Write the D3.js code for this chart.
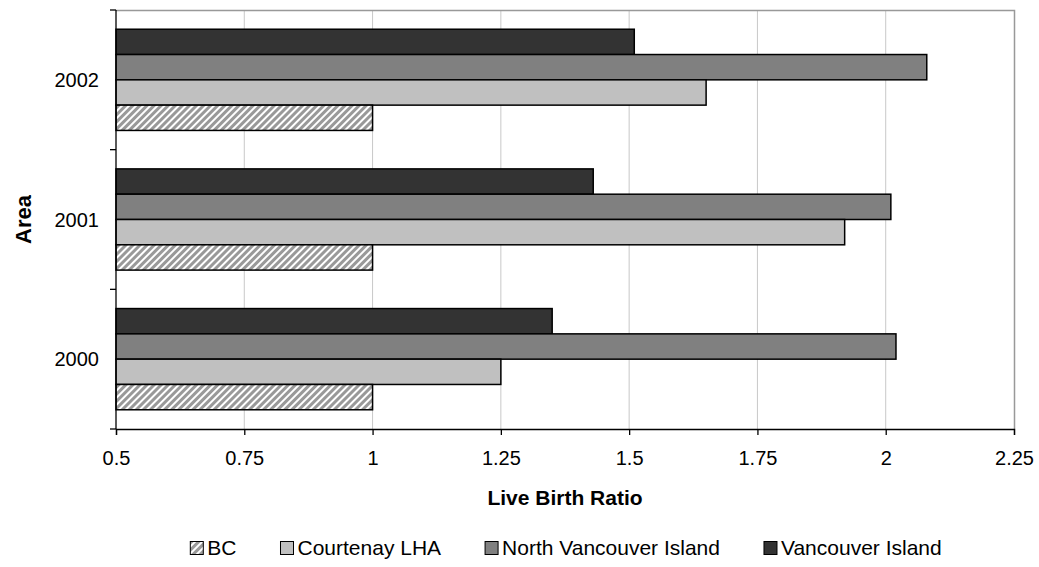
<!DOCTYPE html>
<html>
<head>
<meta charset="utf-8">
<script src="https://cdn.jsdelivr.net/npm/d3@7"></script>
<style>
  html, body { margin: 0; padding: 0; background: #fff; }
  svg { display: block; font-family: "Liberation Sans", Arial, sans-serif; }
</style>
</head>
<body>
<svg id="chart" width="1039" height="567"></svg>
<script>
// ---- data ----
const years = ["2000", "2001", "2002"];
const seriesNames = ["BC", "Courtenay LHA", "North Vancouver Island", "Vancouver Island"];
const bcValues = [1.0, 1.0, 1.0];
const courtenayValues = [1.25, 1.92, 1.65];
const northVIValues = [2.02, 2.01, 2.08];
const vancouverIslandValues = [1.35, 1.43, 1.51];
const xTickValues = [0.5, 0.75, 1, 1.25, 1.5, 1.75, 2, 2.25];
const xDomain = [0.5, 2.25];

const seriesValues = {
  "BC": bcValues,
  "Courtenay LHA": courtenayValues,
  "North Vancouver Island": northVIValues,
  "Vancouver Island": vancouverIslandValues
};
const fills = {
  "BC": "url(#hatch)",
  "Courtenay LHA": "#c0c0c0",
  "North Vancouver Island": "#808080",
  "Vancouver Island": "#333333"
};

// ---- layout ----
const L = 116, R = 1014, T = 10, B = 429;
const svg = d3.select("#chart");

const defs = svg.append("defs");
const pat = defs.append("pattern")
  .attr("id", "hatch").attr("patternUnits", "userSpaceOnUse")
  .attr("width", 5).attr("height", 5)
  .attr("patternTransform", "rotate(45)");
pat.append("rect").attr("width", 5).attr("height", 5).attr("fill", "#ffffff");
pat.append("rect").attr("width", 3).attr("height", 5).attr("fill", "#999999");

const x = d3.scaleLinear().domain(xDomain).range([L, R]);
const y0 = d3.scaleBand().domain(years.slice().reverse()).range([T, B]).padding(0);
const barOrder = ["Vancouver Island", "North Vancouver Island", "Courtenay LHA", "BC"];
const y1 = d3.scaleBand().domain(barOrder).range([0, y0.bandwidth()])
  .paddingInner(0).paddingOuter(0.76);

// gridlines
svg.append("g").selectAll("line")
  .data(xTickValues.filter(v => v > xDomain[0] && v < xDomain[1]))
  .join("line")
  .attr("x1", d => x(d)).attr("x2", d => x(d))
  .attr("y1", T).attr("y2", B)
  .attr("stroke", "#c8c8c8").attr("stroke-width", 1);

// plot border top/right
svg.append("path")
  .attr("d", `M${L},${T + 0.5}H${R + 0.5}V${B}`)
  .attr("fill", "none").attr("stroke", "#999").attr("stroke-width", 1.5);

// bars
const groups = svg.append("g").selectAll("g")
  .data(years).join("g")
  .attr("transform", d => `translate(0,${y0(d)})`);
groups.selectAll("rect")
  .data((yr, i) => barOrder.map(s => ({ s, v: seriesValues[s][i] })))
  .join("rect")
  .attr("x", x(xDomain[0]))
  .attr("y", d => y1(d.s))
  .attr("width", d => x(d.v) - x(xDomain[0]))
  .attr("height", y1.bandwidth())
  .attr("fill", d => fills[d.s])
  .attr("stroke", "#000").attr("stroke-width", 1.5);

// x axis
const xAxis = d3.axisBottom(x).tickValues(xTickValues)
  .tickFormat(d => String(d)).tickSizeOuter(0).tickSize(6).tickPadding(16);
const gx = svg.append("g").attr("transform", `translate(0,${B})`).call(xAxis);
gx.select(".domain").attr("stroke", "#000").attr("stroke-width", 1.3);
gx.selectAll(".tick line").attr("stroke", "#000").attr("stroke-width", 1.3);
gx.selectAll("text").attr("font-size", 20).attr("fill", "#000")
  .attr("font-family", "Liberation Sans, Arial, sans-serif");

// y axis: line with ticks at band boundaries, labels at band centers
svg.append("line").attr("x1", L).attr("x2", L).attr("y1", T).attr("y2", B)
  .attr("stroke", "#000").attr("stroke-width", 1.3);
const boundaries = years.map(yv => y0(yv)).concat([B]);
svg.append("g").selectAll("line").data(boundaries).join("line")
  .attr("x1", L - 6).attr("x2", L).attr("y1", d => d).attr("y2", d => d)
  .attr("stroke", "#000").attr("stroke-width", 1.3);
svg.append("g").selectAll("text").data(years).join("text")
  .attr("x", L - 17).attr("y", d => y0(d) + y0.bandwidth() / 2)
  .attr("dy", "0.35em").attr("text-anchor", "end")
  .attr("font-size", 20).attr("fill", "#000").text(d => d);

// axis titles
svg.append("text").attr("x", (L + R) / 2).attr("y", 505)
  .attr("text-anchor", "middle").attr("font-size", 21).attr("font-weight", "bold")
  .text("Live Birth Ratio");
svg.append("text")
  .attr("transform", `translate(31,${(T + B) / 2}) rotate(-90)`)
  .attr("text-anchor", "middle").attr("font-size", 22).attr("font-weight", "bold")
  .text("Area");

// legend
const legend = svg.append("g");
const boxSize = 13, gapText = 4, gapItem = 44;
let cx = 0;
const items = seriesNames.map(name => {
  const g = legend.append("g");
  g.append("rect").attr("x", 0).attr("y", -boxSize / 2).attr("width", boxSize).attr("height", boxSize)
    .attr("fill", fills[name]).attr("stroke", "#000").attr("stroke-width", 1);
  const t = g.append("text").attr("x", boxSize + gapText).attr("y", 0).attr("dy", "0.35em")
    .attr("font-size", 21).attr("fill", "#000").text(name);
  const w = boxSize + gapText + t.node().getComputedTextLength();
  g.attr("transform", `translate(${cx},0)`);
  cx += w + gapItem;
  return g;
});
const totalW = cx - gapItem;
legend.attr("transform", `translate(${566 - totalW / 2},548)`);
</script>
</body>
</html>
